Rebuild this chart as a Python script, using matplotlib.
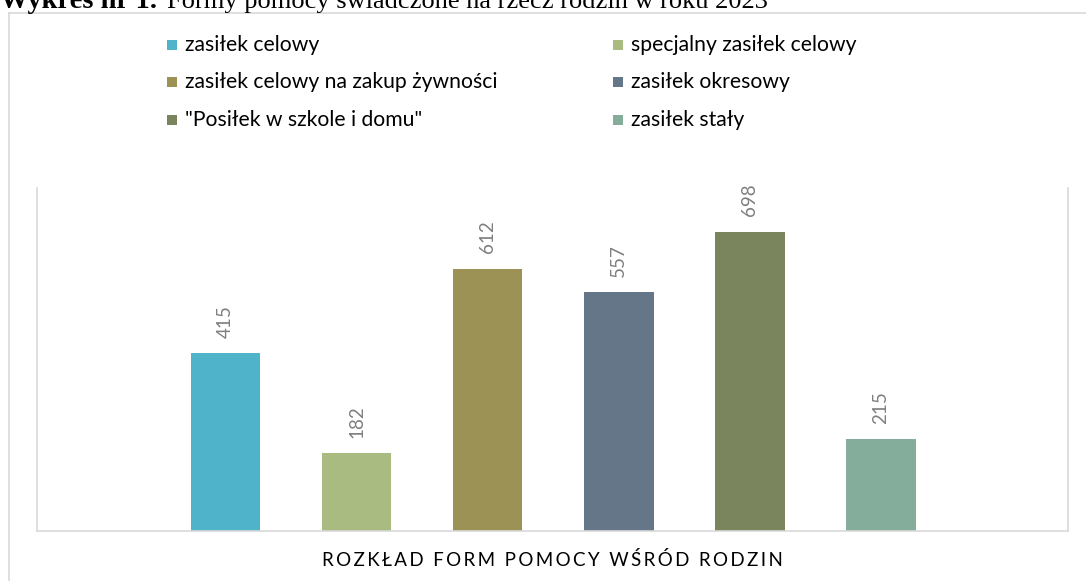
import matplotlib
matplotlib.use("Agg")
import matplotlib.pyplot as plt
from matplotlib.lines import Line2D
from matplotlib.patches import Rectangle

# data
series_names = [
    "zasiłek celowy",
    "specjalny zasiłek celowy",
    "zasiłek celowy na zakup żywności",
    "zasiłek okresowy",
    "\"Posiłek w szkole i domu\"",
    "zasiłek stały",
]
series_values = [415, 182, 612, 557, 698, 215]
series_colors = ["#4FB4C9", "#A9BB80", "#9C9255", "#647688", "#7B855D", "#85AD9C"]
axis_title = "ROZKŁAD FORM POMOCY WŚRÓD RODZIN"
header_bold = "Wykres nr 1."
header_text = "Formy pomocy świadczone na rzecz rodzin w roku 2023"

W, H = 1086, 581
fig = plt.figure(figsize=(W / 100, H / 100), dpi=100)
sans = ["Lato", "DejaVu Sans"]

def fx(px):
    return px / W

def fy(py):
    return 1 - py / H

# caption above the chart (cut off at the top, as in the source page)
fig.text(fx(0), fy(8), header_bold, fontsize=20.5, fontweight="bold",
         family="Liberation Serif", va="baseline", ha="left")
fig.text(fx(167), fy(8), header_text, fontsize=19,
         family="Liberation Serif", va="baseline", ha="left")

# outer chart frame (cropped on right and bottom)
border = "#D9D9D9"
fig.add_artist(Line2D([fx(8.5), fx(8.5)], [0, fy(12.5)], color=border, lw=1.2))
fig.add_artist(Line2D([fx(8.5), 1], [fy(12.5), fy(12.5)], color=border, lw=1.2))

ax = fig.add_axes([fx(37), fy(531), fx(1068) - fx(37), fy(188) - fy(531)])
x = list(range(len(series_values)))
bars = ax.bar(x, series_values, width=0.53, color=series_colors)
for b, v in zip(bars, series_values):
    ax.annotate(str(v), (b.get_x() + b.get_width() / 2, v), xytext=(0, 11),
                textcoords="offset points", rotation=90, ha="center", va="bottom",
                fontsize=13.5, color="#7F7F7F", family=sans)

ax.set_xlim(-1.438, 6.426)
ax.set_ylim(0, 800)
ax.set_xticks([])
ax.set_yticks([])
ax.spines["top"].set_visible(False)
for s in ["left", "right", "bottom"]:
    ax.spines[s].set_color(border)
    ax.spines[s].set_linewidth(1.2)

# legend: two columns, row-major order
col_x = [167, 613]
row_y = [45, 82, 120]
for i, (name, color) in enumerate(zip(series_names, series_colors)):
    r, c = divmod(i, 2)
    fig.add_artist(Rectangle((fx(col_x[c]), fy(row_y[r] + 5)), fx(10), 10 / H,
                             facecolor=color, edgecolor="none"))
    fig.text(fx(col_x[c] + 18), fy(row_y[r]), name, fontsize=15.2, family=sans,
             va="center", ha="left", color="black")

spaced = "\u2009".join(axis_title)
fig.text(fx(552), fy(560), spaced, fontsize=13.5, family=sans,
         ha="center", va="center", color="black")

fig.savefig("out.png", dpi=100)
